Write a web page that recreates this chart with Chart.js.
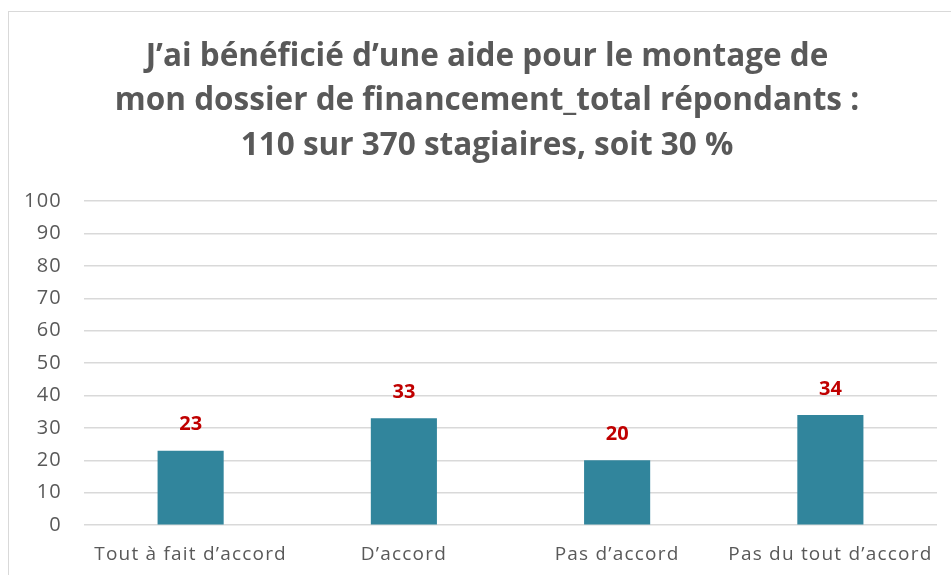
<!DOCTYPE html>
<html>
<head>
<meta charset="utf-8">
<script src="https://cdn.jsdelivr.net/npm/chart.js@4"></script>
<style>
  html, body { margin: 0; padding: 0; background: #fff; overflow: hidden; }
  #frame { position: absolute; left: 8px; top: 11px; width: 1000px; height: 700px; border: 1px solid #d9d9d9; }
  #wrap { position: absolute; left: 0; top: 0; width: 951px; height: 575px; }
</style>
</head>
<body>
<div id="frame"></div>
<div id="wrap"><canvas id="chart"></canvas></div>
<script>
const categories = ['Tout à fait d\u2019accord', 'D\u2019accord', 'Pas d\u2019accord', 'Pas du tout d\u2019accord'];
const values = [23, 33, 20, 34];
const titleLines = [
  'J\u2019ai bénéficié d\u2019une aide pour le montage de',
  'mon dossier de financement_total répondants :',
  '110 sur 370 stagiaires, soit 30 %'
];

// wider letter spacing for axis labels (like the original)
const spacing = {
  id: 'spacing',
  beforeDraw(chart) { chart.ctx.letterSpacing = '1.2px'; },
  beforeDatasetsDraw(chart) { chart.ctx.letterSpacing = '0px'; }
};

// title drawn by hand so it can be centred on the whole frame
const titleBlock = {
  id: 'titleBlock',
  afterDraw(chart) {
    const ctx = chart.ctx;
    ctx.save();
    ctx.letterSpacing = '0px';
    ctx.fillStyle = '#595959';
    ctx.font = "bold 31.5px 'Open Sans', sans-serif";
    ctx.textAlign = 'center';
    ctx.textBaseline = 'middle';
    titleLines.forEach((line, i) => ctx.fillText(line, 487, 57 + i * 44.5));
    ctx.restore();
  }
};

// value labels above each bar
const valueLabels = {
  id: 'valueLabels',
  afterDatasetsDraw(chart) {
    const ctx = chart.ctx;
    const meta = chart.getDatasetMeta(0);
    ctx.save();
    ctx.letterSpacing = '0px';
    ctx.fillStyle = '#C00000';
    ctx.font = "bold 20px 'Open Sans', sans-serif";
    ctx.textAlign = 'center';
    ctx.textBaseline = 'middle';
    meta.data.forEach((bar, i) => {
      ctx.fillText(values[i], bar.x, bar.y - 26);
    });
    ctx.restore();
  }
};

new Chart(document.getElementById('chart'), {
  type: 'bar',
  data: {
    labels: categories,
    datasets: [{
      data: values,
      backgroundColor: '#31859C',
      barPercentage: 0.31,
      categoryPercentage: 1
    }]
  },
  options: {
    responsive: true,
    maintainAspectRatio: false,
    animation: false,
    layout: { padding: { left: 0, right: 14, top: 201, bottom: 0 } },
    plugins: {
      legend: { display: false },
      tooltip: { enabled: false },
      title: { display: false }
    },
    scales: {
      x: {
        grid: { display: false },
        border: { display: false },
        ticks: { color: '#595959', font: { family: "'Open Sans', sans-serif", size: 19 }, padding: 9.5 }
      },
      y: {
        min: 0, max: 100,
        afterFit(scale) { scale.width = 84; },
        grid: { color: '#d9d9d9', lineWidth: 1.5, drawTicks: false },
        border: { display: false },
        ticks: { stepSize: 10, color: '#595959', font: { family: "'Open Sans', sans-serif", size: 20 }, padding: 22 }
      }
    }
  },
  plugins: [spacing, valueLabels, titleBlock]
});
</script>
</body>
</html>
